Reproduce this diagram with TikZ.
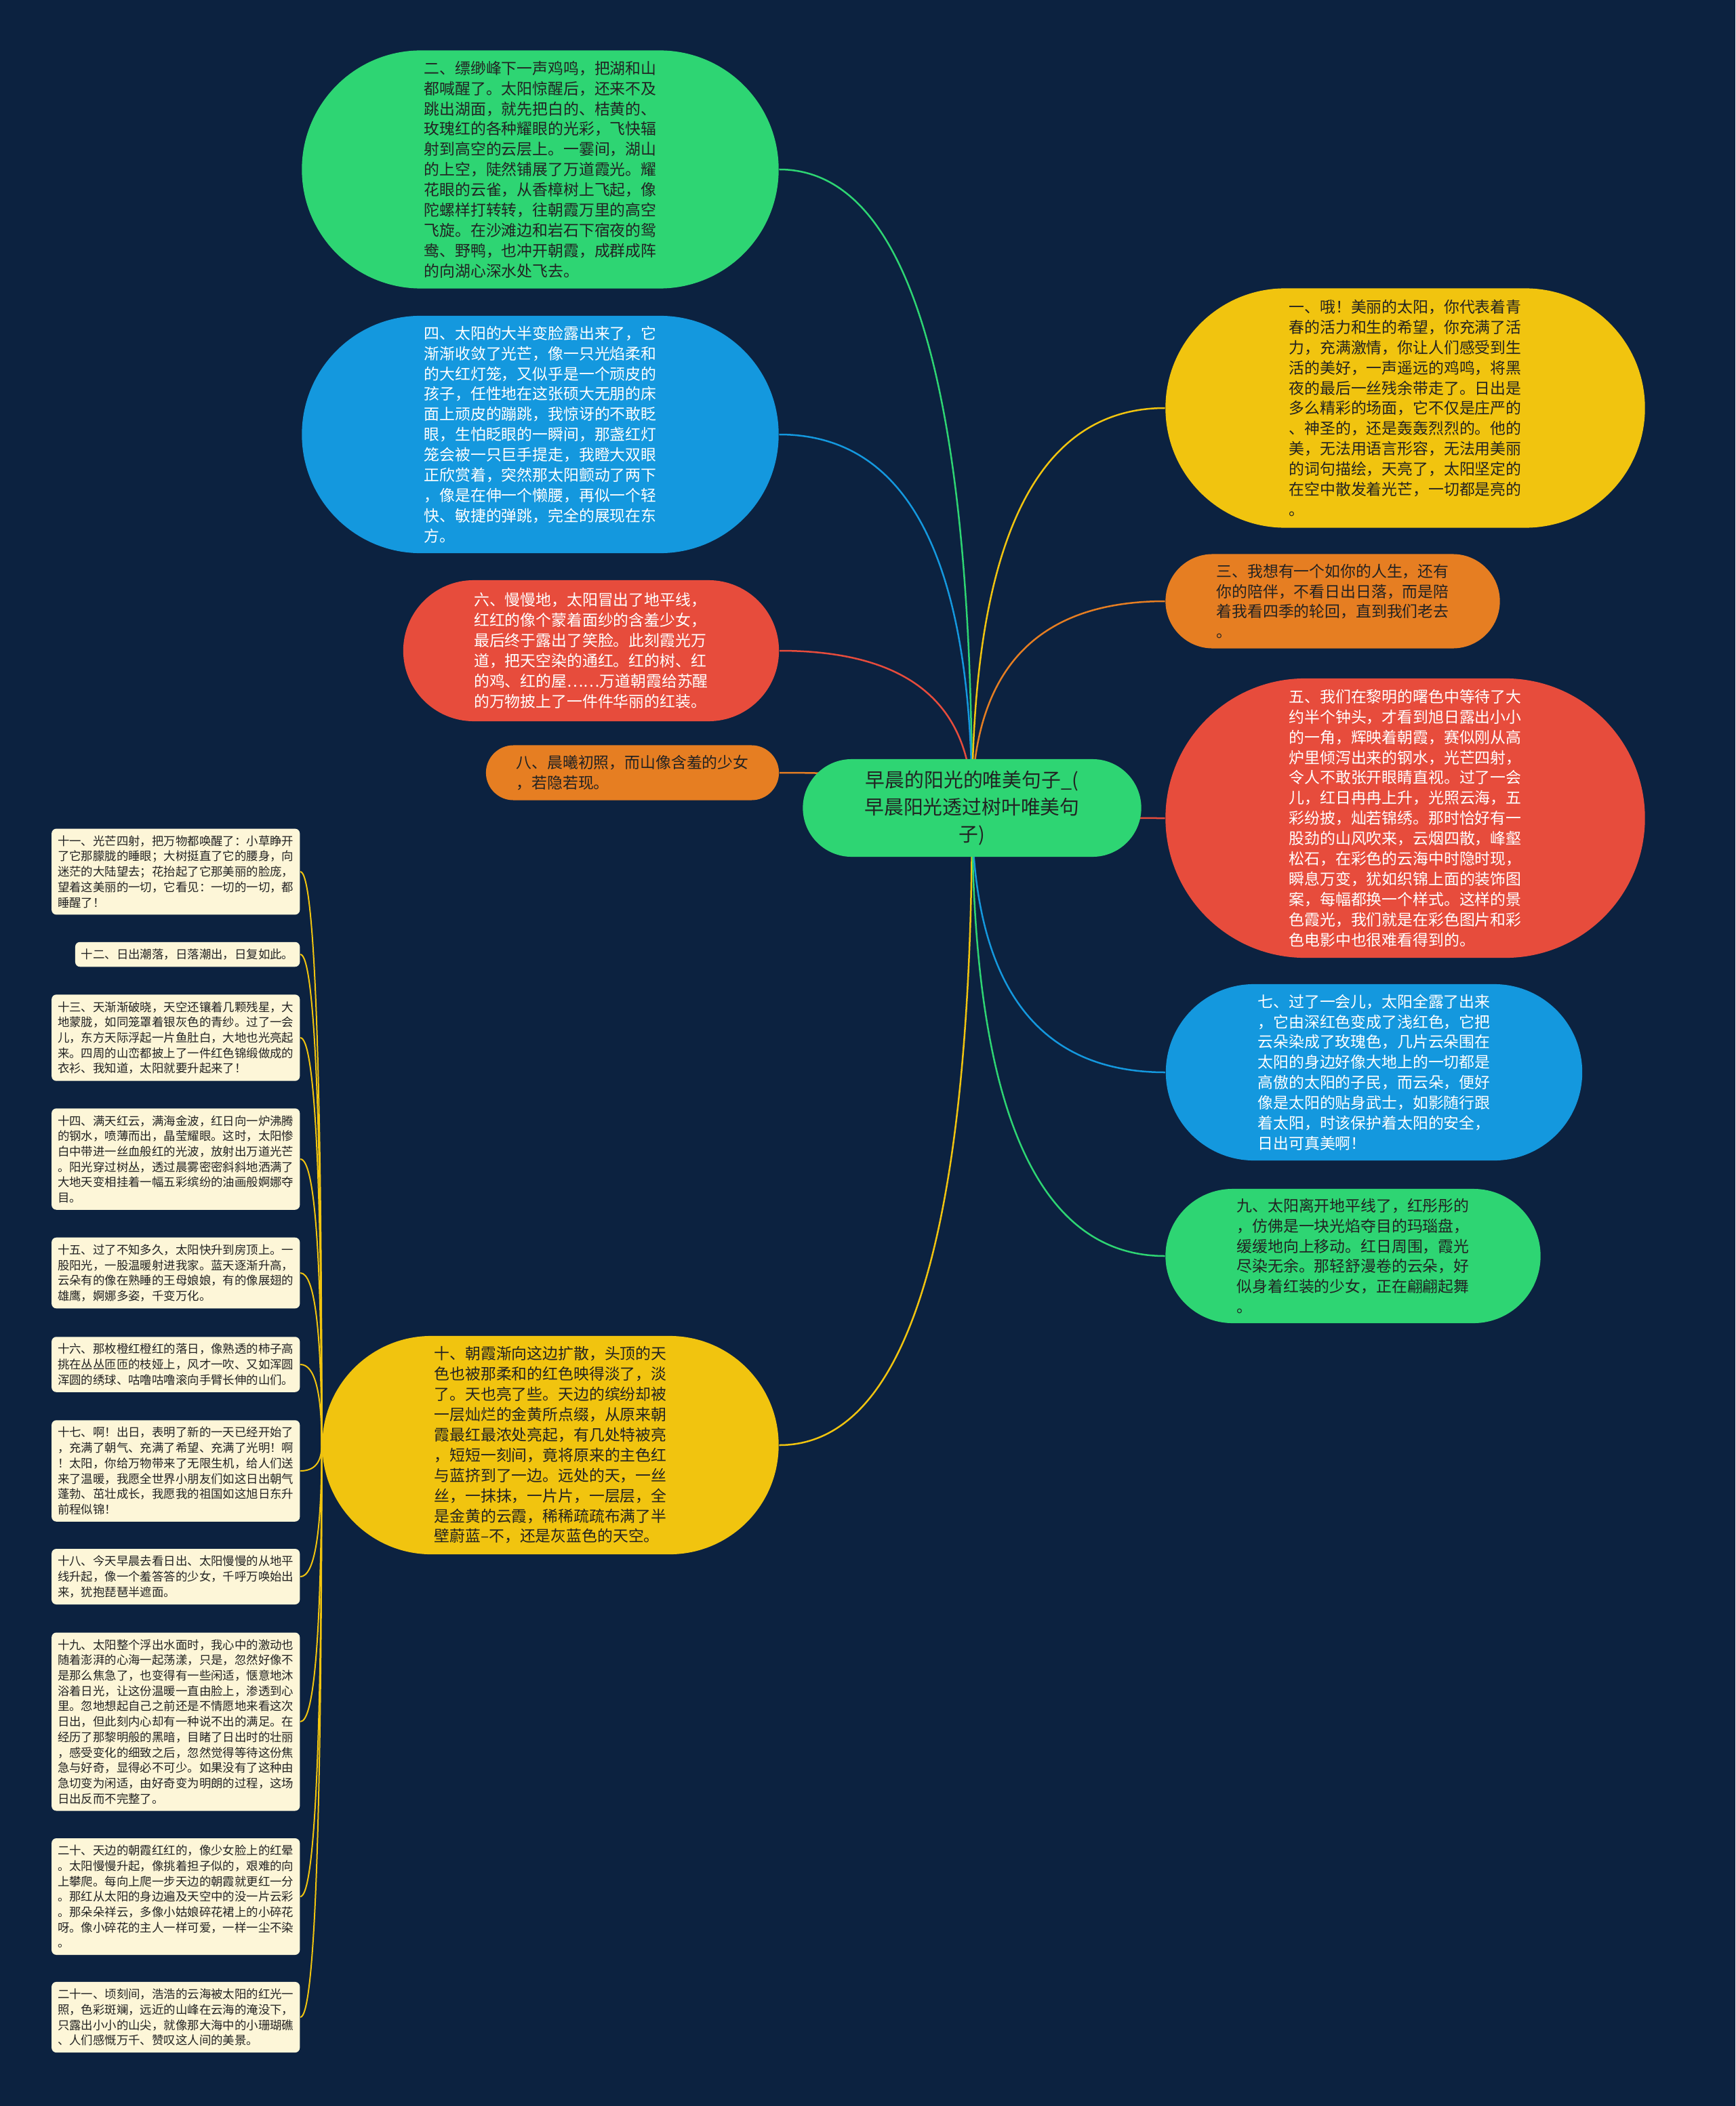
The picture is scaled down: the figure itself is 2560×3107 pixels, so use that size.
\documentclass[tikz,border=0pt]{standalone}
\usepackage{fontspec}
\newfontfamily\cjkfont{Noto Sans CJK SC}
\usetikzlibrary{calc}

\definecolor{mapnavy}{RGB}{12,34,64}
\definecolor{mapgreen}{RGB}{46,213,115}
\definecolor{mapblue}{RGB}{20,152,222}
\definecolor{mapred}{RGB}{231,76,60}
\definecolor{maporange}{RGB}{230,126,34}
\definecolor{mapyellow}{RGB}{241,196,15}
\definecolor{mapcream}{RGB}{253,246,216}
\definecolor{inkdark}{RGB}{34,34,34}

\pgfdeclarelayer{bg}
\pgfdeclarelayer{links}
\pgfsetlayers{bg,links,main}

\begin{document}
\begin{tikzpicture}[x=0.01cm, y=-0.01cm,
    bubble/.style={rectangle, align=left, inner sep=0pt, font=\cjkfont\fontsize{6.5pt}{8.5pt}\selectfont},
    hubnode/.style={rectangle, align=center, inner sep=0pt, fill=mapgreen, text=inkdark, font=\cjkfont\fontsize{8.2pt}{11.4pt}\selectfont},
    cardnote/.style={rectangle, anchor=east, fill=mapcream, text=inkdark, rounded corners=0.07cm, align=left, inner xsep=0.09cm, inner ysep=0.1cm, font=\cjkfont\fontsize{4.95pt}{6.45pt}\selectfont},
    link/.style={line width=0.025cm},
    notelink/.style={line width=0.02cm, mapyellow},
    branch/.style={to path={.. controls ($(\tikztostart)!2/3!(\tikztostart |- \tikztotarget)$)
        and ($(\tikztotarget)!2/3!(\tikztostart |- \tikztotarget)$) .. (\tikztotarget)}}]

\useasboundingbox (0,0) rectangle (2560,3107);
\begin{pgfonlayer}{bg}
\fill[mapnavy] (0,0) rectangle (2560,3107);
\end{pgfonlayer}

%
\node[hubnode, minimum width=4.99cm, minimum height=1.44cm, rounded corners=0.72cm] (hub) at (1434,1192)
    {早晨的阳光的唯美句子\_(\\早晨阳光透过树叶唯美句\\子)};

%
\node[bubble, fill=mapgreen, text=inkdark, minimum width=7.03cm, minimum height=3.51cm, rounded corners=1.755cm] (n2) at (797,250)
    {二、缥缈峰下一声鸡鸣，把湖和山\\都喊醒了。太阳惊醒后，还来不及\\跳出湖面，就先把白的、桔黄的、\\玫瑰红的各种耀眼的光彩，飞快辐\\射到高空的云层上。一霎间，湖山\\的上空，陡然铺展了万道霞光。耀\\花眼的云雀，从香樟树上飞起，像\\陀螺样打转转，往朝霞万里的高空\\飞旋。在沙滩边和岩石下宿夜的鸳\\鸯、野鸭，也冲开朝霞，成群成阵\\的向湖心深水处飞去。};
\node[bubble, fill=mapblue, text=white, minimum width=7.03cm, minimum height=3.50cm, rounded corners=1.75cm] (n4) at (797,641)
    {四、太阳的大半变脸露出来了，它\\渐渐收敛了光芒，像一只光焰柔和\\的大红灯笼，又似乎是一个顽皮的\\孩子，任性地在这张硕大无朋的床\\面上顽皮的蹦跳，我惊讶的不敢眨\\眼，生怕眨眼的一瞬间，那盏红灯\\笼会被一只巨手提走，我瞪大双眼\\正欣赏着，突然那太阳颤动了两下\\，像是在伸一个懒腰，再似一个轻\\快、敏捷的弹跳，完全的展现在东\\方。};
\node[bubble, fill=mapred, text=white, minimum width=5.54cm, minimum height=2.08cm, rounded corners=1.04cm] (n6) at (872,960)
    {六、慢慢地，太阳冒出了地平线，\\红红的像个蒙着面纱的含羞少女，\\最后终于露出了笑脸。此刻霞光万\\道，把天空染的通红。红的树、红\\的鸡、红的屋……万道朝霞给苏醒\\的万物披上了一件件华丽的红装。};
\node[bubble, fill=maporange, text=inkdark, minimum width=4.32cm, minimum height=0.81cm, rounded corners=0.405cm] (n8) at (933,1140)
    {八、晨曦初照，而山像含羞的少女\\，若隐若现。};
\node[bubble, fill=mapyellow, text=inkdark, minimum width=6.73cm, minimum height=3.22cm, rounded corners=1.61cm] (n10) at (812,2132)
    {十、朝霞渐向这边扩散，头顶的天\\色也被那柔和的红色映得淡了，淡\\了。天也亮了些。天边的缤纷却被\\一层灿烂的金黄所点缀，从原来朝\\霞最红最浓处亮起，有几处特被亮\\，短短一刻间，竟将原来的主色红\\与蓝挤到了一边。远处的天，一丝\\丝，一抹抹，一片片，一层层，全\\是金黄的云霞，稀稀疏疏布满了半\\壁蔚蓝–不，还是灰蓝色的天空。};

%
\node[bubble, fill=mapyellow, text=inkdark, minimum width=7.07cm, minimum height=3.53cm, rounded corners=1.765cm] (n1) at (2073,602)
    {一、哦！美丽的太阳，你代表着青\\春的活力和生的希望，你充满了活\\力，充满激情，你让人们感受到生\\活的美好，一声遥远的鸡鸣，将黑\\夜的最后一丝残余带走了。日出是\\多么精彩的场面，它不仅是庄严的\\、神圣的，还是轰轰烈烈的。他的\\美，无法用语言形容，无法用美丽\\的词句描绘，天亮了，太阳坚定的\\在空中散发着光芒，一切都是亮的\\。};
\node[bubble, fill=maporange, text=inkdark, minimum width=4.93cm, minimum height=1.39cm, rounded corners=0.695cm] (n3) at (1966,887)
    {三、我想有一个如你的人生，还有\\你的陪伴，不看日出日落，而是陪\\着我看四季的轮回，直到我们老去\\。};
\node[bubble, fill=mapred, text=white, minimum width=7.07cm, minimum height=4.12cm, rounded corners=2.06cm] (n5) at (2073,1207)
    {五、我们在黎明的曙色中等待了大\\约半个钟头，才看到旭日露出小小\\的一角，辉映着朝霞，赛似刚从高\\炉里倾泻出来的钢水，光芒四射，\\令人不敢张开眼睛直视。过了一会\\儿，红日冉冉上升，光照云海，五\\彩纷披，灿若锦绣。那时恰好有一\\股劲的山风吹来，云烟四散，峰壑\\松石，在彩色的云海中时隐时现，\\瞬息万变，犹如织锦上面的装饰图\\案，每幅都换一个样式。这样的景\\色霞光，我们就是在彩色图片和彩\\色电影中也很难看得到的。};
\node[bubble, fill=mapblue, text=white, minimum width=6.14cm, minimum height=2.60cm, rounded corners=1.30cm] (n7) at (2027,1582)
    {七、过了一会儿，太阳全露了出来\\，它由深红色变成了浅红色，它把\\云朵染成了玫瑰色，几片云朵围在\\太阳的身边好像大地上的一切都是\\高傲的太阳的子民，而云朵，便好\\像是太阳的贴身武士，如影随行跟\\着太阳，时该保护着太阳的安全，\\日出可真美啊！};
\node[bubble, fill=mapgreen, text=inkdark, minimum width=5.53cm, minimum height=1.98cm, rounded corners=0.99cm] (n9) at (1996,1853)
    {九、太阳离开地平线了，红彤彤的\\，仿佛是一块光焰夺目的玛瑙盘，\\缓缓地向上移动。红日周围，霞光\\尽染无余。那轻舒漫卷的云朵，好\\似身着红装的少女，正在翩翩起舞\\。};

%
\node[cardnote] (n11) at (443,1286)
    {十一、光芒四射，把万物都唤醒了：小草睁开\\了它那朦胧的睡眼；大树挺直了它的腰身，向\\迷茫的大陆望去；花抬起了它那美丽的脸庞，\\望着这美丽的一切，它看见：一切的一切，都\\睡醒了！};
\node[cardnote] (n12) at (443,1408)
    {十二、日出潮落，日落潮出，日复如此。};
\node[cardnote] (n13) at (443,1531)
    {十三、天渐渐破晓，天空还镶着几颗残星，大\\地蒙胧，如同笼罩着银灰色的青纱。过了一会\\儿，东方天际浮起一片鱼肚白，大地也光亮起\\来。四周的山峦都披上了一件红色锦缎做成的\\衣衫、我知道，太阳就要升起来了！};
\node[cardnote] (n14) at (443,1710)
    {十四、满天红云，满海金波，红日向一炉沸腾\\的钢水，喷薄而出，晶莹耀眼。这时，太阳惨\\白中带进一丝血般红的光波，放射出万道光芒\\。阳光穿过树丛，透过晨雾密密斜斜地洒满了\\大地天变相挂着一幅五彩缤纷的油画般婀娜夺\\目。};
\node[cardnote] (n15) at (443,1878)
    {十五、过了不知多久，太阳快升到房顶上。一\\股阳光，一股温暖射进我家。蓝天逐渐升高，\\云朵有的像在熟睡的王母娘娘，有的像展翅的\\雄鹰，婀娜多姿，千变万化。};
\node[cardnote] (n16) at (443,2013)
    {十六、那枚橙红橙红的落日，像熟透的柿子高\\挑在丛丛匝匝的枝娅上，风才一吹、又如浑圆\\浑圆的绣球、咕噜咕噜滚向手臂长伸的山们。};
\node[cardnote] (n17) at (443,2170)
    {十七、啊！出日，表明了新的一天已经开始了\\，充满了朝气、充满了希望、充满了光明！啊\\！太阳，你给万物带来了无限生机，给人们送\\来了温暖，我愿全世界小朋友们如这日出朝气\\蓬勃、茁壮成长，我愿我的祖国如这旭日东升\\前程似锦！};
\node[cardnote] (n18) at (443,2326)
    {十八、今天早晨去看日出、太阳慢慢的从地平\\线升起，像一个羞答答的少女，千呼万唤始出\\来，犹抱琵琶半遮面。};
\node[cardnote] (n19) at (443,2540)
    {十九、太阳整个浮出水面时，我心中的激动也\\随着澎湃的心海一起荡漾，只是，忽然好像不\\是那么焦急了，也变得有一些闲适，惬意地沐\\浴着日光，让这份温暖一直由脸上，渗透到心\\里。忽地想起自己之前还是不情愿地来看这次\\日出，但此刻内心却有一种说不出的满足。在\\经历了那黎明般的黑暗，目睹了日出时的壮丽\\，感受变化的细致之后，忽然觉得等待这份焦\\急与好奇，显得必不可少。如果没有了这种由\\急切变为闲适，由好奇变为明朗的过程，这场\\日出反而不完整了。};
\node[cardnote] (n20) at (443,2798)
    {二十、天边的朝霞红红的，像少女脸上的红晕\\。太阳慢慢升起，像挑着担子似的，艰难的向\\上攀爬。每向上爬一步天边的朝霞就更红一分\\。那红从太阳的身边遍及天空中的没一片云彩\\。那朵朵祥云，多像小姑娘碎花裙上的小碎花\\呀。像小碎花的主人一样可爱，一样一尘不染\\。};
\node[cardnote] (n21) at (443,2976)
    {二十一、顷刻间，浩浩的云海被太阳的红光一\\照，色彩斑斓，远近的山峰在云海的淹没下，\\只露出小小的山尖，就像那大海中的小珊瑚礁\\、人们感慨万千、赞叹这人间的美景。};

%
\begin{pgfonlayer}{links}
\draw[link, mapgreen]  (hub.center) to[branch] (n2.east);
\draw[link, mapblue]   (hub.center) to[branch] (n4.east);
\draw[link, mapred]    (hub.center) to[branch] (n6.east);
\draw[link, maporange] (hub.center) to[branch] (n8.east);
\draw[link, mapyellow] (hub.center) to[branch] (n10.east);
\draw[link, mapyellow] (hub.center) to[branch] (n1.west);
\draw[link, maporange] (hub.center) to[branch] (n3.west);
\draw[link, mapred]    (hub.center) to[branch] (n5.west);
\draw[link, mapblue]   (hub.center) to[branch] (n7.west);
\draw[link, mapgreen]  (hub.center) to[branch] (n9.west);
\foreach \k in {11,...,21}
    \draw[notelink] (n10.west) to[branch] (n\k.east);
\end{pgfonlayer}
\end{tikzpicture}
\end{document}
